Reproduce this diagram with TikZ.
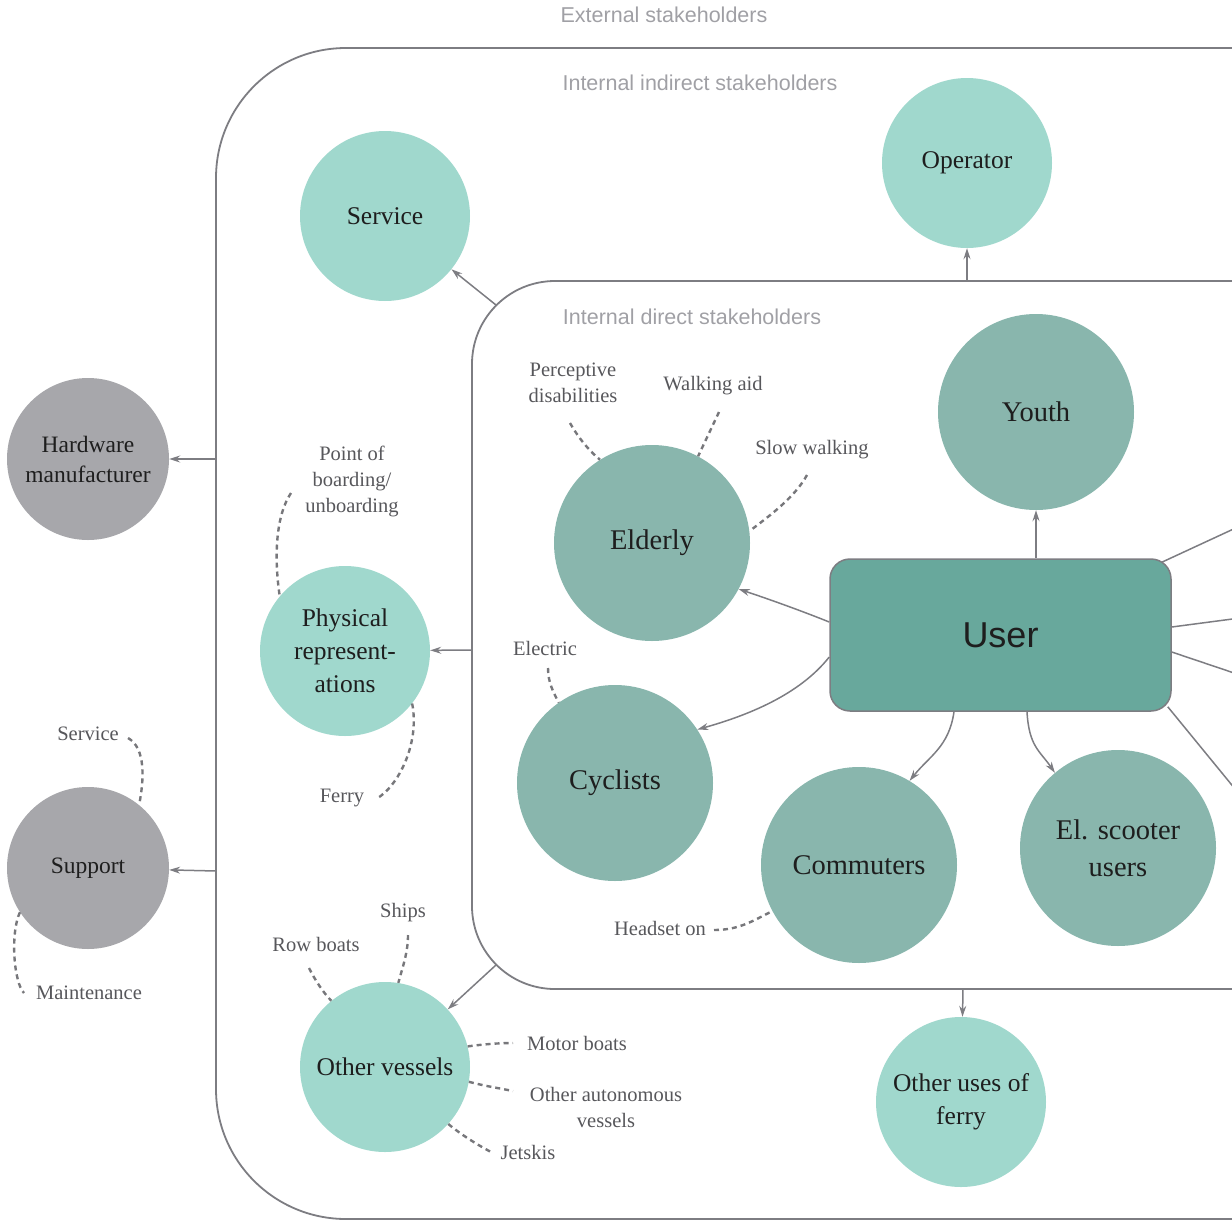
\documentclass[tikz,border=0pt]{standalone}
\usepackage{fontspec}
\setmainfont{Liberation Serif}
\newfontfamily\headfont{Liberation Sans}
\usetikzlibrary{arrows.meta}
\definecolor{tealLight}{HTML}{A0D8CD}
\definecolor{tealMid}{HTML}{89B6AD}
\definecolor{tealDark}{HTML}{68A89C}
\definecolor{greyNode}{HTML}{A7A7AB}
\definecolor{lineGrey}{HTML}{7D7D82}
\definecolor{headGrey}{HTML}{A0A0A5}
\definecolor{noteGrey}{HTML}{57575B}
\definecolor{dashGrey}{HTML}{77777B}
\definecolor{inkDark}{HTML}{1E1E1E}

\begin{document}
\begin{tikzpicture}[x=1pt,y=-1pt,
  bubble/.style={circle,inner sep=0pt,align=center,text=inkDark},
  smallbub/.style={bubble,fill=tealLight,minimum size=170pt,font=\fontsize{25.5}{33}\selectfont},
  largebub/.style={bubble,fill=tealMid,minimum size=196pt,font=\fontsize{28.5}{37}\selectfont},
  outerbub/.style={bubble,fill=greyNode,minimum size=162pt,font=\fontsize{23.5}{30}\selectfont},
  note/.style={inner sep=0pt,align=center,text=noteGrey,font=\fontsize{20.5}{26}\selectfont},
  heading/.style={inner sep=0pt,text=headGrey,font=\headfont\fontsize{21.5}{24}\selectfont},
  frame/.style={draw=lineGrey,line width=1.8pt},
  link/.style={draw=lineGrey,line width=1.5pt,-{Stealth[length=11pt,width=7pt]}},
  plain/.style={draw=lineGrey,line width=1.5pt},
  hint/.style={draw=dashGrey,line width=2.4pt,dash pattern=on 5pt off 4pt},
]
\useasboundingbox (0,0) rectangle (1232,1221);
\clip (0,0) rectangle (1232,1221);

% stakeholder rings
\draw[frame,rounded corners=130pt] (216,48) rectangle (1400,1219);
\draw[frame,rounded corners=83pt] (472,281) rectangle (1400,989);

\node[heading] (hExt) at (664,15) {External stakeholders};
\node[heading] (hInd) at (700,83) {Internal indirect stakeholders};
\node[heading] (hDir) at (692,317) {Internal direct stakeholders};

% points on the rings where arrows leave
\coordinate (inSvc) at (496,305);
\coordinate (inOp)  at (967,281);
\coordinate (inPhy) at (472,650);
\coordinate (inVes) at (496,965);
\coordinate (inFer) at (963,989);
\coordinate (outHw) at (216,459);
\coordinate (outSp) at (216,871);

% external
\node[outerbub] (hw)  at (88,459) {Hardware\\manufacturer};
\node[outerbub] (sup) at (88,868) {Support};

% internal indirect
\node[smallbub] (svc) at (385,216)  {Service};
\node[smallbub] (op)  at (967,163)  {Operator};
\node[smallbub] (phy) at (345,651)  {Physical\\represent-\\ations};
\node[smallbub] (ves) at (385,1067) {Other vessels};
\node[smallbub] (fer) at (961,1102) {Other uses of\\ferry};

% internal direct
\node[largebub] (eld) at (652,543)  {Elderly};
\node[largebub] (you) at (1036,412) {Youth};
\node[largebub] (cyc) at (615,783)  {Cyclists};
\node[largebub] (com) at (859,865)  {Commuters};
\node[largebub] (sco) at (1118,848) {El. scooter\\users};

\node[rectangle,rounded corners=20pt,minimum width=341pt,minimum height=152pt,
      fill=tealDark,draw=lineGrey,line width=1.5pt,text=inkDark,
      font=\headfont\fontsize{36}{40}\selectfont] (user) at (1000.5,635) {User};

% arrows from the rings
\draw[link] (inSvc) -- (svc);
\draw[link] (inOp)  -- (op);
\draw[link] (inPhy) -- (phy);
\draw[link] (inVes) -- (ves);
\draw[link] (inFer) -- (fer);
\draw[link] (outHw) -- (hw);
\draw[link] (outSp) -- (sup);

% arrows from the user
\draw[link] (user.north -| you.south) -- (you.south);
\draw[link] ([yshift=13pt]user.west) .. controls +(-30,-12) and +(30,10) .. (eld.-28);
\draw[link] ([yshift=-22pt]user.west) .. controls +(-30,38) and +(50,-14) .. (cyc.33);
\draw[link] ([xshift=-46.5pt]user.south) .. controls +(-5,35) and +(20,-25) .. (com.59);
\draw[link] ([xshift=26.5pt]user.south) .. controls +(2,35) and +(-15,-22) .. (sco.130);

% lines leaving to the right
\coordinate (r1) at (1240,526);
\coordinate (r2) at (1240,618);
\coordinate (r3) at (1240,675);
\coordinate (r4) at (1240,795);
\draw[plain] ([xshift=-10pt,yshift=-4pt]user.north east) -- (r1);
\draw[plain] ([yshift=8pt]user.east) -- (r2);
\draw[plain] ([yshift=-17pt]user.east) -- (r3);
\draw[plain] ([xshift=-4pt,yshift=5pt]user.south east) -- (r4);

% annotations
\node[note] (nPer) at (573,383) {Perceptive\\disabilities};
\node[note] (nWalk) at (713,386) {Walking aid};
\node[note] (nSlow) at (812,450) {Slow walking};
\node[note] (nEl) at (545,648) {Electric};
\node[note] (nPob) at (352,481) {Point of\\boarding/\\unboarding};
\node[note] (nFer) at (342,798) {Ferry};
\node[note] (nHead) at (660,928) {Headset on};
\node[note] (nSvc) at (88,734) {Service};
\node[note] (nMai) at (89,993) {Maintenance};
\node[note] (nRow) at (316,944) {Row boats};
\node[note] (nShip) at (403,913) {Ships};
\node[note] (nMot) at (577,1043) {Motor boats};
\node[note] (nAut) at (606,1107) {Other autonomous\\vessels};
\node[note] (nJet) at (528,1152) {Jetskis};

\coordinate (ePer) at (570,423);
\coordinate (eWalk) at (719,412);
\coordinate (eSlow) at (807,475);
\coordinate (eEl) at (548,668);
\coordinate (ePob) at (291,493);
\coordinate (eFer) at (376,799);
\coordinate (eHead) at (714,930);
\coordinate (eSvc) at (128,738);
\coordinate (eMai) at (24,993);
\coordinate (eRow) at (309,968);
\coordinate (eShip) at (408,935);
\coordinate (eMot) at (513,1043);
\coordinate (eAut) at (513,1091);
\coordinate (eJet) at (491,1152);

\draw[hint] (ePer) .. controls +(8,14) and +(-12,-10) .. (eld.122);
\draw[hint] (eWalk) -- (eld.62);
\draw[hint] (eSlow) .. controls +(-12,22) and +(20,-15) .. (eld.7);
\draw[hint] (eEl) .. controls +(0,15) and +(-5,-10) .. (cyc.125);
\draw[hint] (ePob) .. controls +(-15,22) and +(-6,-40) .. (phy.140);
\draw[hint] (phy.-38) .. controls +(8,40) and +(22,-12) .. (eFer);
\draw[hint] (eHead) .. controls +(25,0) and +(-20,10) .. (com.208);
\draw[hint] (eSvc) .. controls +(18,10) and +(5,-25) .. (sup.51);
\draw[hint] (sup.213) .. controls +(-10,22) and +(-10,-10) .. (eMai);
\draw[hint] (eRow) .. controls +(6,12) and +(-8,-8) .. (ves.129);
\draw[hint] (eShip) .. controls +(0,18) and +(4,-15) .. (ves.81);
\draw[hint] (ves.14) .. controls +(15,-2) and +(-15,0) .. (eMot);
\draw[hint] (ves.-10) .. controls +(15,4) and +(-15,-3) .. (eAut);
\draw[hint] (ves.-42) .. controls +(12,10) and +(-15,-8) .. (eJet);
\end{tikzpicture}
\end{document}
